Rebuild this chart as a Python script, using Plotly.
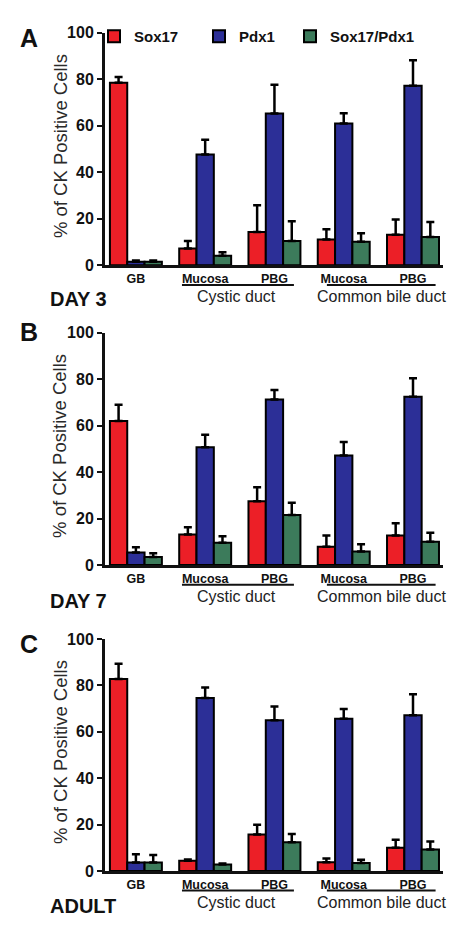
import plotly.graph_objects as go

# ---------------- data ----------------
categories = ["GB", "Mucosa", "PBG", "Mucosa", "PBG"]
group_labels = ["Cystic duct", "Common bile duct"]
series_names = ["Sox17", "Pdx1", "Sox17/Pdx1"]
panel_letters = ["A", "B", "C"]
panel_names = ["DAY 3", "DAY 7", "ADULT"]

day3_sox17 = [78.5, 7.2, 14.3, 11.1, 13.2]
day3_sox17_err = [2.5, 3.3, 11.5, 4.4, 6.5]
day3_pdx1 = [1.5, 47.6, 65.3, 61.0, 77.2]
day3_pdx1_err = [0.6, 6.4, 12.3, 4.4, 11.0]
day3_both = [1.5, 4.1, 10.5, 10.1, 12.2]
day3_both_err = [0.6, 1.5, 8.5, 3.7, 6.4]

day7_sox17 = [62.0, 13.1, 27.5, 7.9, 12.7]
day7_sox17_err = [7.0, 3.2, 6.0, 4.8, 5.3]
day7_pdx1 = [5.4, 50.7, 71.3, 47.2, 72.4]
day7_pdx1_err = [2.3, 5.4, 4.1, 5.8, 8.0]
day7_both = [3.5, 9.6, 21.5, 5.8, 10.0]
day7_both_err = [1.6, 2.8, 5.3, 3.1, 3.9]

adult_sox17 = [82.8, 4.4, 15.7, 3.8, 10.0]
adult_sox17_err = [6.5, 0.6, 4.2, 1.6, 3.5]
adult_pdx1 = [3.7, 74.6, 65.0, 65.6, 67.1]
adult_pdx1_err = [3.5, 4.5, 5.9, 4.2, 9.1]
adult_both = [3.7, 2.8, 12.4, 3.5, 9.3]
adult_both_err = [3.2, 0.4, 3.5, 1.4, 3.4]

y_ticks = [0, 20, 40, 60, 80, 100]
y_title = "% of CK Positive Cells"

# ---------------- styling ----------------
W, H = 458, 925
colors = ["#EC1F27", "#2C2F97", "#3C7B5B"]
FONT = "Arial, Liberation Sans, sans-serif"

panels = [
    [(day3_sox17, day3_sox17_err), (day3_pdx1, day3_pdx1_err), (day3_both, day3_both_err)],
    [(day7_sox17, day7_sox17_err), (day7_pdx1, day7_pdx1_err), (day7_both, day7_both_err)],
    [(adult_sox17, adult_sox17_err), (adult_pdx1, adult_pdx1_err), (adult_both, adult_both_err)],
]

# pixel layout of each panel (top, bottom) and x extent
panel_px = [(17, 254), (322.7, 559.3), (634.7, 871)]
x_px = (97, 435)
letter_px = [22, 322, 640]
name_offset_px = [34.5, 37, 35.5]

xpos = list(range(len(categories)))

fig = go.Figure()
legend_ids = ["legend", "legend2", "legend3"]
for p, series in enumerate(panels):
    ax = "" if p == 0 else str(p + 1)
    for s, (vals, errs) in enumerate(series):
        fig.add_trace(go.Bar(
            x=xpos, y=vals, name=series_names[s],
            marker=dict(color=colors[s], line=dict(color="black", width=2)),
            error_y=dict(type="data", symmetric=False, array=errs,
                         arrayminus=[0] * len(errs), color="black",
                         thickness=2.5, width=4),
            xaxis="x" + ax, yaxis="y" + ax,
            showlegend=(p == 0), legend=legend_ids[s],
        ))

layout = dict(
    width=W, height=H,
    margin=dict(l=0, r=0, t=0, b=0),
    paper_bgcolor="white", plot_bgcolor="white",
    barmode="group", bargap=0.25, bargroupgap=0,
    font=dict(family=FONT, color="#111"),
    shapes=[], annotations=[],
)

legend_x_px = [86, 191, 282]
for i, lid in enumerate(legend_ids):
    layout[lid] = dict(
        x=legend_x_px[i] / W, y=1 - 21 / H, xanchor="left", yanchor="middle",
        orientation="h", bgcolor="rgba(0,0,0,0)", borderwidth=0,
        font=dict(family=FONT, size=15, color="#111", weight="bold"),
        itemclick=False,
    )

for p in range(3):
    ax = "" if p == 0 else str(p + 1)
    top, bot = panel_px[p]
    ph = bot - top
    ydom = [1 - bot / H, 1 - top / H]
    layout["xaxis" + ax] = dict(
        domain=[x_px[0] / W, x_px[1] / W], anchor="y" + ax,
        range=[-0.446, 4.433], tickmode="array", tickvals=xpos, ticktext=categories,
        showline=True, linecolor="#111", linewidth=3, ticks="", showgrid=False,
        zeroline=False, fixedrange=True,
        tickfont=dict(family=FONT, size=12.5, color="#111", weight="bold"),
    )
    layout["yaxis" + ax] = dict(
        domain=ydom, anchor="x" + ax, range=[0, 100],
        tickmode="array", tickvals=y_ticks,
        showline=True, linecolor="#111", linewidth=3,
        ticks="outside", ticklen=5, tickwidth=2, tickcolor="#111",
        showgrid=False, zeroline=False, fixedrange=True,
        tickfont=dict(family=FONT, size=16, color="#111", weight="bold"),
    )
    # y-axis title
    layout["annotations"].append(dict(
        text=y_title, textangle=-90, xref="paper", yref="paper",
        x=52 / W, y=(ydom[0] + ydom[1]) / 2 + 3 / H, showarrow=False,
        xanchor="center", yanchor="middle",
        font=dict(family=FONT, size=18.5, color="#2a2a2a"),
    ))
    # panel letter
    layout["annotations"].append(dict(
        text=panel_letters[p], xref="paper", yref="paper",
        x=10 / W, y=1 - letter_px[p] / H, xanchor="left", yanchor="middle",
        showarrow=False, font=dict(family=FONT, size=25, color="#111", weight="bold"),
    ))
    # panel name
    layout["annotations"].append(dict(
        text=panel_names[p], xref="paper", yref="y" + ax + " domain",
        x=40 / W, y=-name_offset_px[p] / ph, xanchor="left", yanchor="middle",
        showarrow=False, font=dict(family=FONT, size=20, color="#111", weight="bold"),
    ))
    # group underlines and labels
    spans = [(0.665, 2.281), (2.757, 4.326)]
    centers = [1.45, 3.55]
    for g in range(2):
        layout["shapes"].append(dict(
            type="line", xref="x" + ax, yref="y" + ax + " domain",
            x0=spans[g][0], x1=spans[g][1], y0=-20 / ph, y1=-20 / ph,
            line=dict(color="#111", width=2),
        ))
        layout["annotations"].append(dict(
            text=group_labels[g], xref="x" + ax, yref="y" + ax + " domain",
            x=centers[g], y=-32 / ph, xanchor="center", yanchor="middle",
            showarrow=False, font=dict(family=FONT, size=16, color="#222"),
        ))

fig.update_layout(**layout)
fig.write_html("out.html")
